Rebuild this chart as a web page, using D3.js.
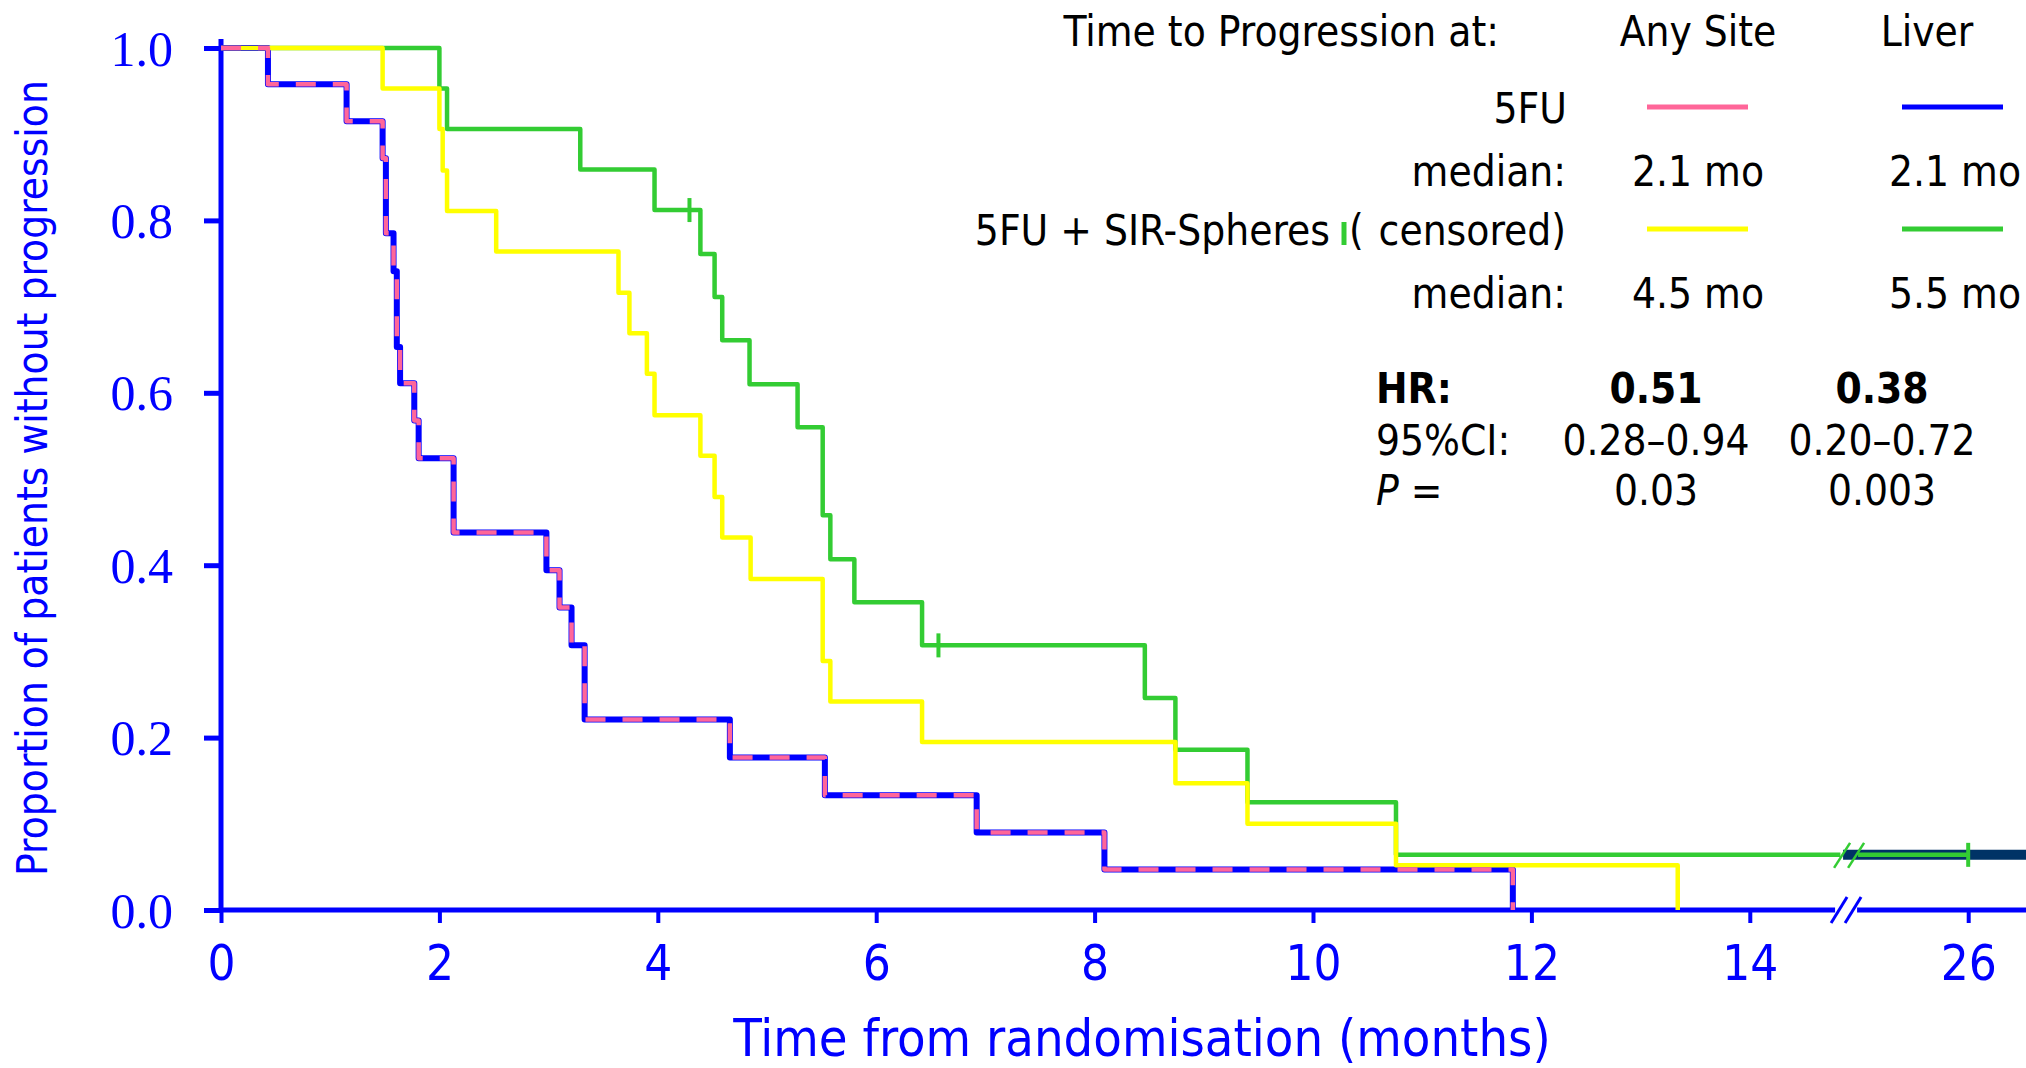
<!DOCTYPE html>
<html>
<head>
<meta charset="utf-8">
<script src="https://cdn.jsdelivr.net/npm/d3@7"></script>
<style>
html, body { margin: 0; padding: 0; background: #fff; overflow: hidden; }
svg { display: block; }
.sans { font-family: "DejaVu Sans", sans-serif; font-stretch: condensed; }
.serif { font-family: "Liberation Serif", "Times New Roman", serif; }
</style>
</head>
<body>
<svg id="chart" width="2026" height="1068"></svg>
<script>
// drop times (months) and proportion left after each drop
const fuTimes = [0.43, 1.15, 1.48, 1.51, 1.58, 1.61, 1.64, 1.77, 1.81, 2.13, 2.98, 3.10, 3.21, 3.33, 4.66, 5.53, 6.92, 8.09, 11.83];
const fuValues = [0.958, 0.915, 0.872, 0.785, 0.741, 0.653, 0.611, 0.568, 0.524, 0.438, 0.394, 0.351, 0.307, 0.221, 0.177, 0.133, 0.090, 0.047, 0];

const sirAnyTimes = [1.48, 2.00, 2.03, 2.07, 2.52, 3.64, 3.74, 3.90, 3.97, 4.39, 4.52, 4.59, 4.85, 5.51, 5.58, 6.42, 8.74, 9.40, 10.76, 13.34];
const sirAnyValues = [0.953, 0.906, 0.858, 0.811, 0.764, 0.716, 0.669, 0.622, 0.574, 0.527, 0.479, 0.432, 0.384, 0.289, 0.242, 0.195, 0.147, 0.100, 0.052, 0];

const sirLiverTimes = [2.00, 2.07, 3.29, 3.97, 4.39, 4.52, 4.59, 4.84, 5.28, 5.51, 5.58, 5.80, 6.42, 8.46, 8.74, 9.40, 10.76];
const sirLiverValues = [0.953, 0.906, 0.859, 0.812, 0.761, 0.711, 0.661, 0.610, 0.560, 0.458, 0.407, 0.357, 0.307, 0.246, 0.186, 0.125, 0.064];
const sirLiverCensored = [4.29, 6.57, 26];
const sirLiverLastFollowUp = 26;

// axis
const xTicks = [0, 2, 4, 6, 8, 10, 12, 14, 26];
const yTicks = [0, 0.2, 0.4, 0.6, 0.8, 1.0];
const axisBreak = [14.9, 24.9]; // months hidden behind the // on the time axis
const xTitle = 'Time from randomisation (months)';
const yTitle = 'Proportion of patients without progression';

// legend table
const legendTitle = 'Time to Progression at:';
const columnHeads = ['Any Site', 'Liver'];
const groupNames = ['5FU', '5FU + SIR-Spheres'];
const medians5FU = ['2.1 mo', '2.1 mo'];
const mediansSIR = ['4.5 mo', '5.5 mo'];
const hrValues = ['0.51', '0.38'];
const ciValues = ['0.28\u20130.94', '0.20\u20130.72'];
const pValues = ['0.03', '0.003'];

const BLUE = '#0000ff', PINK = '#ff6699', YELLOW = '#ffff00', GREEN = '#33cc33', NAVY = '#003366';

class KmChart {
    constructor() {
        this.svg = d3.select('#chart');
        const pxPerMonth = 109.2;
        const x0 = 221;
        const xb = x0 + axisBreak[0] * pxPerMonth;
        // piecewise scale, the hidden stretch collapses to one point
        this.x = d3.scaleLinear()
            .domain([0, axisBreak[0], axisBreak[1], 27.5])
            .range([x0, xb, xb, xb + (27.5 - axisBreak[1]) * pxPerMonth]);
        this.y = d3.scaleLinear().domain([0, 1]).range([910, 48]);
        this.xb = xb;
    }

    drawAxes() {
        const svg = this.svg, x = this.x, y = this.y, xb = this.xb;

        const yAxis = d3.axisLeft(y).tickValues(yTicks).tickSize(17).tickPadding(31)
            .tickFormat(d3.format('.1f'));
        const gy = svg.append('g').attr('transform', `translate(${x(0)},0)`).call(yAxis);
        gy.select('.domain').remove();
        gy.selectAll('line').attr('stroke', BLUE).attr('stroke-width', 5);
        gy.selectAll('text').attr('class', 'serif').attr('fill', BLUE)
            .attr('font-size', 50).attr('dy', '0.34em');

        const xAxis = d3.axisBottom(x).tickValues(xTicks).tickSize(13).tickPadding(22)
            .tickFormat(d3.format('d'));
        const gx = svg.append('g').attr('transform', `translate(0,${y(0)})`).call(xAxis);
        gx.select('.domain').remove();
        gx.selectAll('line').attr('stroke', BLUE).attr('stroke-width', 4);
        gx.selectAll('text').attr('class', 'sans').attr('fill', BLUE).attr('font-size', 49);

        // axis lines, the time axis is broken
        const ax = svg.append('g').attr('stroke', BLUE).attr('fill', 'none');
        ax.append('line').attr('x1', x(0)).attr('x2', x(0)).attr('y1', y(1) - 9).attr('y2', y(0))
            .attr('stroke-width', 5);
        ax.append('line').attr('x1', x(0)).attr('x2', xb - 13).attr('y1', y(0)).attr('y2', y(0))
            .attr('stroke-width', 5);
        ax.append('line').attr('x1', xb + 9).attr('x2', 2026).attr('y1', y(0)).attr('y2', y(0))
            .attr('stroke-width', 5);
        [-17, -3].forEach(dx => {
            ax.append('line').attr('stroke-width', 3)
                .attr('x1', xb + dx).attr('y1', y(0) + 13)
                .attr('x2', xb + dx + 16).attr('y2', y(0) - 13);
        });

        svg.append('text').attr('class', 'sans').attr('fill', BLUE).attr('font-size', 52)
            .attr('text-anchor', 'middle')
            .attr('x', 1142).attr('y', 1056)
            .text(xTitle);

        svg.append('text').attr('class', 'sans').attr('fill', BLUE).attr('font-size', 42)
            .attr('text-anchor', 'middle')
            .attr('transform', 'translate(47,478) rotate(-90)')
            .text(yTitle);
    }

    stepPoints(times, values, endTime) {
        const pts = [[0, 1]];
        times.forEach((t, i) => pts.push([t, values[i]]));
        if (endTime != null) pts.push([endTime, values[values.length - 1]]);
        return pts;
    }

    drawCurves() {
        const svg = this.svg, x = this.x, y = this.y, xb = this.xb;
        const line = d3.line().x(d => x(d[0])).y(d => y(d[1])).curve(d3.curveStepAfter);
        const g = svg.append('g').attr('fill', 'none').attr('stroke-linejoin', 'round');

        const lastLiver = sirLiverValues[sirLiverValues.length - 1];

        // liver, 5FU + SIR-Spheres (green), up to the break
        g.append('path')
            .attr('d', line(this.stepPoints(sirLiverTimes, sirLiverValues, axisBreak[0] - 0.07)))
            .attr('stroke', GREEN).attr('stroke-width', 4.5);

        // long follow up bar after the break
        g.append('line')
            .attr('x1', xb - 5).attr('x2', 2026)
            .attr('y1', y(lastLiver)).attr('y2', y(lastLiver))
            .attr('stroke', NAVY).attr('stroke-width', 10);
        g.append('line')
            .attr('x1', xb + 10).attr('x2', x(sirLiverLastFollowUp))
            .attr('y1', y(lastLiver)).attr('y2', y(lastLiver))
            .attr('stroke', GREEN).attr('stroke-width', 4.5);
        [-14, 0].forEach(dx => {
            g.append('line').attr('stroke', GREEN).attr('stroke-width', 2.5)
                .attr('x1', xb + dx).attr('y1', y(lastLiver) + 13)
                .attr('x2', xb + dx + 16).attr('y2', y(lastLiver) - 12);
        });

        // censored marks
        sirLiverCensored.forEach(t => {
            const v = sirLiverValues[d3.bisectRight(sirLiverTimes, t) - 1];
            g.append('line').attr('stroke', GREEN).attr('stroke-width', 4)
                .attr('x1', x(t)).attr('x2', x(t))
                .attr('y1', y(v) - 12).attr('y2', y(v) + 12);
        });

        // 5FU, liver (blue solid) under any site (pink dashed), same curve
        const fuPath = line(this.stepPoints(fuTimes, fuValues));
        g.append('path').attr('d', fuPath).attr('stroke', BLUE).attr('stroke-width', 6);

        // any site, 5FU + SIR-Spheres (yellow)
        g.append('path')
            .attr('d', line(this.stepPoints(sirAnyTimes, sirAnyValues)))
            .attr('stroke', YELLOW).attr('stroke-width', 4.5);

        g.append('path').attr('d', fuPath).attr('stroke', PINK).attr('stroke-width', 4.5)
            .attr('stroke-dasharray', '20,17');
    }

    drawLegend() {
        const svg = this.svg;
        const g = svg.append('g').attr('class', 'sans').attr('font-size', 42).attr('fill', '#000');
        const colX = [1698, 1955];
        const statX = [1656, 1882];
        const keyX = [[1647, 1748], [1902, 2003]];
        const labelEnd = 1566;

        g.append('text').attr('x', 1499).attr('y', 46).attr('text-anchor', 'end').text(legendTitle);
        columnHeads.forEach((h, i) => {
            g.append('text').attr('x', [1698, 1927][i]).attr('y', 46).attr('text-anchor', 'middle').text(h);
        });

        // 5FU row
        g.append('text').attr('x', labelEnd + 1).attr('y', 123).attr('text-anchor', 'end').text(groupNames[0]);
        [PINK, BLUE].forEach((c, i) => {
            g.append('line').attr('x1', keyX[i][0]).attr('x2', keyX[i][1]).attr('y1', 107).attr('y2', 107)
                .attr('stroke', c).attr('stroke-width', 5);
        });
        g.append('text').attr('x', labelEnd).attr('y', 186).attr('text-anchor', 'end').text('median:');
        medians5FU.forEach((m, i) => {
            g.append('text').attr('x', colX[i]).attr('y', 186).attr('text-anchor', 'middle').text(m);
        });

        // 5FU + SIR-Spheres row
        g.append('text').attr('x', 1330).attr('y', 245).attr('text-anchor', 'end').text(groupNames[1]);
        g.append('line').attr('x1', 1344).attr('x2', 1344).attr('y1', 222).attr('y2', 245)
            .attr('stroke', GREEN).attr('stroke-width', 5);
        g.append('text').attr('x', 1349).attr('y', 245).text('(');
        g.append('text').attr('x', labelEnd).attr('y', 245).attr('text-anchor', 'end').text('censored)');
        [YELLOW, GREEN].forEach((c, i) => {
            g.append('line').attr('x1', keyX[i][0]).attr('x2', keyX[i][1]).attr('y1', 229).attr('y2', 229)
                .attr('stroke', c).attr('stroke-width', 5);
        });
        g.append('text').attr('x', labelEnd).attr('y', 308).attr('text-anchor', 'end').text('median:');
        mediansSIR.forEach((m, i) => {
            g.append('text').attr('x', colX[i]).attr('y', 308).attr('text-anchor', 'middle').text(m);
        });

        // hazard ratio block
        g.append('text').attr('x', 1376).attr('y', 403).attr('font-weight', 'bold').text('HR:');
        hrValues.forEach((v, i) => {
            g.append('text').attr('x', statX[i]).attr('y', 403).attr('text-anchor', 'middle')
                .attr('font-weight', 'bold').text(v);
        });
        g.append('text').attr('x', 1376).attr('y', 455).text('95%CI:');
        ciValues.forEach((v, i) => {
            g.append('text').attr('x', statX[i]).attr('y', 455).attr('text-anchor', 'middle').text(v);
        });
        const pLab = g.append('text').attr('x', 1376).attr('y', 505);
        pLab.append('tspan').attr('font-style', 'italic').text('P');
        pLab.append('tspan').text(' =');
        pValues.forEach((v, i) => {
            g.append('text').attr('x', statX[i]).attr('y', 505).attr('text-anchor', 'middle').text(v);
        });
    }
}

const chart = new KmChart();
chart.drawAxes();
chart.drawCurves();
chart.drawLegend();
</script>
</body>
</html>
